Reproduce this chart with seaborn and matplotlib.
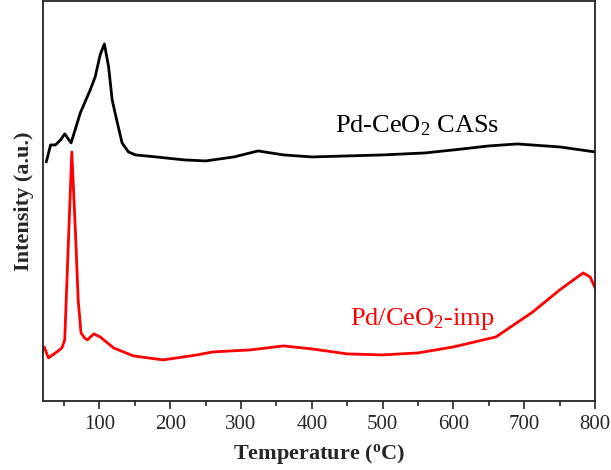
import numpy as np
import pandas as pd
import matplotlib
matplotlib.use('Agg')
import matplotlib.pyplot as plt
import seaborn as sns
from matplotlib.ticker import MultipleLocator

# curves (temperature in C, intensity in arbitrary units)
temp_cas = [25, 31, 38, 45, 51, 60, 73, 87, 94, 101, 107, 113, 118, 125, 132, 141,
            151, 180, 220, 250, 290, 324, 360, 400, 450, 500, 560, 600, 650, 690, 750, 800]
int_cas = [239, 256, 256, 261, 267, 258, 288, 311, 324, 346, 357, 334, 301, 279, 258, 249,
           246, 244, 241, 240, 244, 250, 246, 244, 245, 246, 248, 251, 255, 257, 254, 249]

temp_imp = [22, 28, 40, 47, 51, 56, 61, 66, 70, 74, 79, 83, 92, 101, 120, 148,
            190, 238, 260, 313, 360, 400, 450, 500, 550, 600, 660, 712, 750, 783, 793, 800]
int_imp = [54, 43, 49, 53, 61, 155, 249, 171, 101, 68, 63, 61, 67, 64, 53, 45,
           41, 46, 49, 51, 55, 52, 47, 46, 48, 54, 64, 89, 111, 128, 124, 113]

label_cas = 'Pd-CeO$_2$ CASs'
label_imp = 'Pd/CeO$_2$-imp'

sns.set_style('ticks')
plt.rcParams['font.family'] = ['Liberation Serif', 'DejaVu Serif']
plt.rcParams['mathtext.fontset'] = 'custom'
plt.rcParams['mathtext.rm'] = 'Liberation Serif'
plt.rcParams['mathtext.it'] = 'Liberation Serif:italic'
plt.rcParams['mathtext.bf'] = 'Liberation Serif:bold'

df_cas = pd.DataFrame({'T': temp_cas, 'I': int_cas})
df_imp = pd.DataFrame({'T': temp_imp, 'I': int_imp})

fig, ax = plt.subplots(figsize=(6.11, 4.70), dpi=100)
fig.subplots_adjust(left=0.070, right=0.974, bottom=0.147, top=0.998)

sns.lineplot(data=df_cas, x='T', y='I', color='black', lw=2, ax=ax)
sns.lineplot(data=df_imp, x='T', y='I', color='#ff0000', lw=2, ax=ax)

ax.text(433, 269, label_cas, fontsize=19, color='black', va='baseline', ha='left')
ax.text(454, 76, label_imp, fontsize=19, color='#ff0000', va='baseline', ha='left')

ax.set_xlim(20, 800)
ax.set_ylim(0, 400)
ax.xaxis.set_major_locator(MultipleLocator(100))
ax.xaxis.set_minor_locator(MultipleLocator(50))
ax.set_yticks([])
ax.tick_params(axis='x', which='major', direction='out', length=6, width=1.2,
               labelsize=15, pad=4)
ax.tick_params(axis='x', which='minor', direction='out', length=3.5, width=1.2)
for s in ax.spines.values():
    s.set_linewidth(1.3)
    s.set_color('#222222')

ax.set_xlabel('Temperature ($^{\\mathbf{o}}$C)', fontsize=16, fontweight='bold', labelpad=6)
ax.set_ylabel('Intensity (a.u.)', fontsize=16, fontweight='bold', labelpad=6)

fig.savefig('out.png', dpi=100)
